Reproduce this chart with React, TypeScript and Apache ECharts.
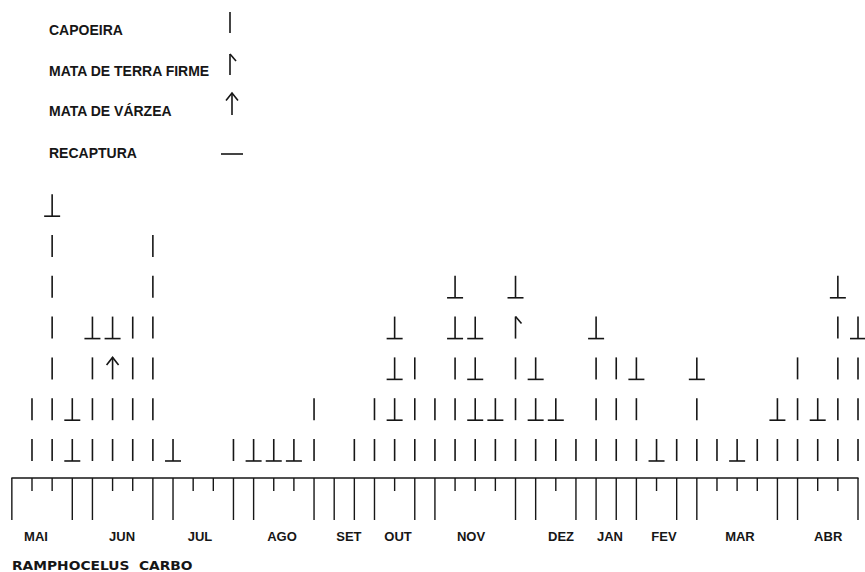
import React, { useEffect, useRef } from "react";
import * as echarts from "echarts";

// Month labels and their place along the sampling axis (in sampling-index units)
const months = ["MAI", "JUN", "JUL", "AGO", "SET", "OUT", "NOV", "DEZ", "JAN", "FEV", "MAR", "ABR"];
const monthPositions = [0.2, 4.47, 8.34, 12.41, 15.73, 18.17, 21.79, 26.26, 28.69, 31.37, 35.14, 39.52];

// Captures per sampling date, bottom to top:
// C = capoeira, R = capoeira recaptura, V = mata de várzea, T = mata de terra firme
const stacks = [
  "CC", "CCCCCCR", "RR", "CCCR", "CCVR", "CCCC", "CCCCCC", "R", "", "",
  "C", "R", "R", "R", "CC", "", "C", "CC", "CRRR", "CCC",
  "CC", "CCCRR", "CRRR", "CR", "CCCTR", "CRR", "CR", "C", "CCCR", "CCC",
  "CCR", "R", "C", "CCR", "C", "R", "C", "CR", "CCC", "CR",
  "CCCCR", "CCCR",
];

// Tick kind under each sampling date: L = long, S = short
const tickKinds = [
  "S", "S", "L", "L", "S", "S", "L", "L", "S", "S",
  "L", "L", "S", "S", "L", "L", "L", "L", "S", "L",
  "L", "S", "S", "S", "L", "L", "S", "L", "L", "L",
  "L", "S", "L", "L", "S", "S", "S", "L", "L", "S",
  "S", "L",
];

const legendLabels = ["CAPOEIRA", "MATA DE TERRA FIRME", "MATA DE VÁRZEA", "RECAPTURA"];
const title = "RAMPHOCELUS  CARBO";

const INK = "#161616";
const CODES = "CRVT";

function glyph(code: string, x: number, yb: number, h: number): any[] {
  const yt = yb - h;
  const st = { stroke: INK, lineWidth: 1.6, fill: null };
  const els: any[] = [];
  if (code !== "-") {
    els.push({ type: "line", shape: { x1: x, y1: yt, x2: x, y2: yb }, style: st });
  }
  if (code === "R") {
    els.push({ type: "line", shape: { x1: x - 8, y1: yb, x2: x + 8, y2: yb }, style: st });
  }
  if (code === "V") {
    els.push({
      type: "polyline",
      shape: { points: [[x - 6, yt + 7.5], [x, yt], [x + 6, yt + 7.5]] },
      style: st,
    });
  }
  if (code === "T") {
    els.push({ type: "line", shape: { x1: x, y1: yt, x2: x + 6, y2: yt + 7 }, style: st });
  }
  if (code === "-") {
    els.push({ type: "line", shape: { x1: x - 11, y1: yb, x2: x + 11, y2: yb }, style: st });
  }
  return els;
}

export default function App() {
  const ref = useRef<HTMLDivElement>(null);

  useEffect(() => {
    if (!ref.current) return;
    const chart = echarts.init(ref.current, undefined, { renderer: "svg" });

    const glyphData: number[][] = [];
    stacks.forEach((s, i) => {
      s.split("").forEach((ch, j) => glyphData.push([i, j + 1, CODES.indexOf(ch)]));
    });
    const tickData: number[][] = [[-1, 1]].concat(
      tickKinds.map((k, i) => [i, k === "L" ? 1 : 0])
    );
    const monthData = monthPositions.map((p) => [p, 0]);

    const legendGlyphs = [
      ...glyph("C", 230, 33, 21),
      ...glyph("T", 230, 75, 21),
      ...glyph("V", 232, 115, 22),
      ...glyph("-", 232, 154, 0),
    ];
    const legendY = [30, 70.5, 110.5, 153];

    chart.setOption({
      animation: false,
      backgroundColor: "#ffffff",
      grid: { left: 11.85, right: 7, top: 151.6, bottom: 94 },
      xAxis: {
        type: "value",
        min: -1,
        max: 41,
        axisLine: { show: true, lineStyle: { color: INK, width: 1.5 } },
        axisTick: { show: false },
        axisLabel: { show: false },
        splitLine: { show: false },
      },
      yAxis: {
        type: "value",
        min: 0,
        max: 8,
        show: false,
        splitLine: { show: false },
      },
      graphic: [
        ...legendLabels.map((t, i) => ({
          type: "text",
          x: 49,
          y: legendY[i],
          style: {
            text: t,
            fill: INK,
            font: "bold 14px 'Liberation Sans', Arial, sans-serif",
            textAlign: "left",
            textVerticalAlign: "middle",
          },
        })),
        ...legendGlyphs,
        {
          type: "text",
          x: 12,
          y: 566,
          scaleX: 1.15,
          style: {
            text: title,
            fill: INK,
            font: "bold 12px 'DejaVu Sans', sans-serif",
            textAlign: "left",
            textVerticalAlign: "middle",
          },
        },
      ],
      series: [
        {
          type: "custom",
          name: "ticks",
          data: tickData,
          encode: { x: 0, y: 1 },
          renderItem: (params: any, api: any) => {
            const [x, y0] = api.coord([api.value(0), 0]);
            const len = api.value(1) === 1 ? 42 : 13;
            return {
              type: "line",
              shape: { x1: x, y1: y0, x2: x, y2: y0 + len },
              style: { stroke: INK, lineWidth: 1.4 },
            };
          },
        },
        {
          type: "custom",
          name: "captures",
          data: glyphData,
          encode: { x: 0, y: 1 },
          renderItem: (params: any, api: any) => {
            const lvl = api.value(1);
            const [x, yb] = api.coord([api.value(0), lvl - 0.583]);
            const code = CODES[api.value(2)];
            return { type: "group", children: glyph(code, x, yb, 22) };
          },
        },
        {
          type: "custom",
          name: "months",
          data: monthData,
          encode: { x: 0, y: 1 },
          renderItem: (params: any, api: any) => {
            const [x, y0] = api.coord([api.value(0), 0]);
            return {
              type: "text",
              x,
              y: y0 + 58,
              style: {
                text: months[params.dataIndex],
                fill: INK,
                font: "bold 13px 'Liberation Sans', Arial, sans-serif",
                textAlign: "center",
                textVerticalAlign: "middle",
              },
            };
          },
        },
      ],
    });

    return () => chart.dispose();
  }, []);

  return (
    <div
      ref={ref}
      style={{ position: "absolute", left: 0, top: 0, width: 865, height: 572, background: "#fff" }}
    />
  );
}
